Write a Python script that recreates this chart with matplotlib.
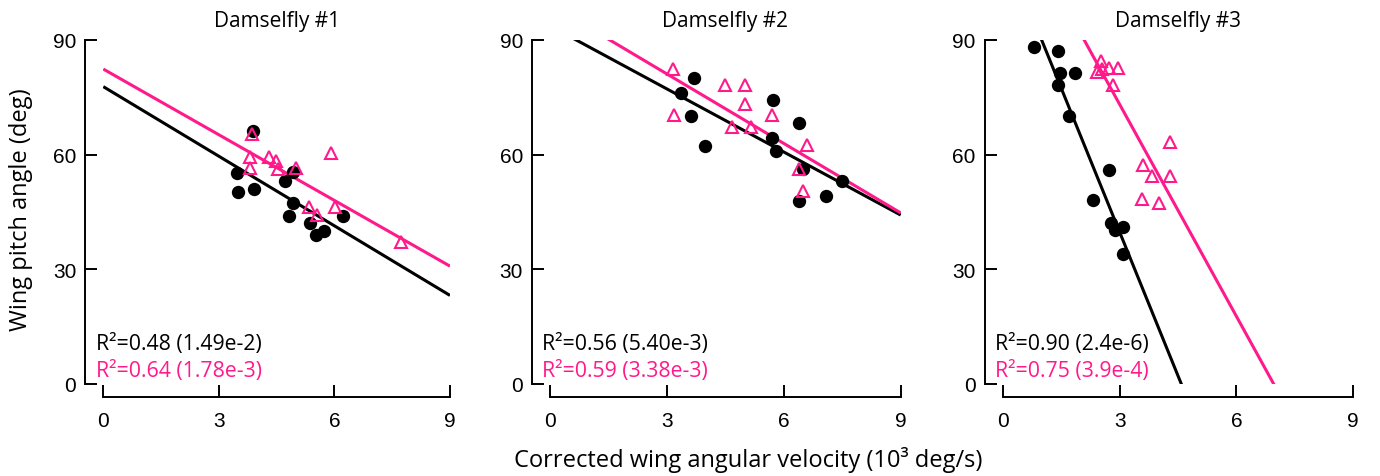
import numpy as np
import matplotlib
matplotlib.use("Agg")
import matplotlib.pyplot as plt

# ---- data -------------------------------------------------------------
titles = ["Damselfly #1", "Damselfly #2", "Damselfly #3"]

# uncorrected (black circles)
vel_black_1 = [3.89, 3.46, 3.50, 3.91, 4.71, 4.93, 4.93, 4.82, 5.36, 5.52, 5.73, 6.22]
ang_black_1 = [66.3, 55.1, 50.2, 51.0, 53.1, 55.4, 47.4, 44.0, 42.0, 39.1, 40.1, 44.0]
vel_black_2 = [3.69, 3.35, 3.62, 3.97, 5.73, 5.70, 5.79, 6.39, 6.50, 6.39, 7.08, 7.50]
ang_black_2 = [80.1, 76.1, 70.0, 62.2, 74.3, 64.4, 61.0, 68.2, 56.3, 48.0, 49.1, 53.0]
vel_black_3 = [0.81, 1.41, 1.46, 1.86, 1.41, 1.71, 2.72, 2.32, 2.78, 2.89, 3.10, 3.08]
ang_black_3 = [88.1, 87.2, 81.3, 81.3, 78.1, 70.0, 56.1, 48.1, 42.0, 40.3, 41.0, 34.0]

# pink open triangles
vel_pink_1 = [3.86, 3.80, 3.81, 4.30, 4.49, 4.54, 5.01, 5.91, 5.34, 5.54, 6.02, 7.73]
ang_pink_1 = [65.4, 59.3, 56.4, 59.5, 58.4, 56.3, 56.4, 60.4, 46.4, 44.2, 46.4, 37.2]
vel_pink_2 = [3.16, 3.19, 4.50, 5.00, 5.00, 4.66, 5.15, 5.70, 6.60, 6.39, 6.50]
ang_pink_2 = [82.4, 70.4, 78.3, 78.3, 73.3, 67.3, 67.3, 70.4, 62.4, 56.3, 50.4]
vel_pink_3 = [2.53, 2.42, 2.56, 2.74, 2.97, 2.82, 4.30, 3.60, 3.83, 4.29, 3.58, 4.02]
ang_pink_3 = [84.6, 81.6, 82.4, 82.6, 82.6, 78.2, 63.2, 57.3, 54.3, 54.3, 48.4, 47.3]

# linear fits: (intercept, slope)
fit_black = [(77.8, -6.07), (93.7, -5.50), (115.1, -25.1)]
fit_pink = [(82.4, -5.73), (99.3, -6.06), (128.7, -18.5)]

stats_black = ["R²=0.48 (1.49e-2)", "R²=0.56 (5.40e-3)", "R²=0.90 (2.4e-6)"]
stats_pink = ["R²=0.64 (1.78e-3)", "R²=0.59 (3.38e-3)", "R²=0.75 (3.9e-4)"]

x_ticks = [0, 3, 6, 9]
y_ticks = [0, 30, 60, 90]

PINK = "#ff1a8c"
TEXT_FONT = ["Open Sans", "DejaVu Sans"]
TICK_FONT = ["Liberation Sans", "DejaVu Sans"]

blacks = [(vel_black_1, ang_black_1), (vel_black_2, ang_black_2), (vel_black_3, ang_black_3)]
pinks = [(vel_pink_1, ang_pink_1), (vel_pink_2, ang_pink_2), (vel_pink_3, ang_pink_3)]

# ---- figure -------------------------------------------------------------
W, H = 1380, 477
fig = plt.figure(figsize=(W / 100, H / 100), dpi=100)

x_left_px = [103.3, 550.0, 1002.7]
x_right_px = [450.0, 900.7, 1353.3]
y_top_px, y_bot_px = 41.0, 385.0

for i in range(3):
    l = x_left_px[i] / W
    w = (x_right_px[i] - x_left_px[i]) / W
    b = (H - y_bot_px) / H
    h = (y_bot_px - y_top_px) / H
    ax = fig.add_axes([l, b, w, h])
    ax.set_xlim(0, 9)
    ax.set_ylim(0, 90)

    xs = np.array([0.0, 9.0])
    a0, a1 = fit_black[i]
    ax.plot(xs, a0 + a1 * xs, color="black", lw=2.2, solid_capstyle="butt", zorder=2)
    p0, p1 = fit_pink[i]
    ax.plot(xs, p0 + p1 * xs, color=PINK, lw=2.2, solid_capstyle="butt", zorder=2)

    bx, by = blacks[i]
    ax.plot(bx, by, ls="none", marker="o", ms=9.6, mfc="black", mec="black",
            mew=0, clip_on=False, zorder=3)
    px, py = pinks[i]
    ax.plot(px, py, ls="none", marker="^", ms=8.4, mfc="none", mec=PINK,
            mew=1.5, clip_on=False, zorder=4)

    for side in ("top", "right"):
        ax.spines[side].set_visible(False)
    ax.spines["left"].set_position(("outward", 12.9))
    ax.spines["bottom"].set_position(("outward", 9.4))
    for side in ("left", "bottom"):
        ax.spines[side].set_linewidth(1.4)

    ax.set_xticks(x_ticks, labels=[str(v) for v in x_ticks],
                  family=TICK_FONT, fontsize=15)
    ax.set_yticks(y_ticks, labels=[str(v) for v in y_ticks],
                  family=TICK_FONT, fontsize=15)
    ax.tick_params(direction="in", length=8.6, width=1.4)
    ax.tick_params(axis="y", pad=6.5)
    ax.tick_params(axis="x", pad=10)

    ax.set_title(titles[i], family=TEXT_FONT, fontsize=15, pad=10)

    xw = x_right_px[i] - x_left_px[i]
    ax.text(-7.5 / xw, 35 / 344, stats_black[i], transform=ax.transAxes,
            family=TEXT_FONT, fontsize=15.3, color="black", va="baseline", ha="left")
    ax.text(-7.5 / xw, 8 / 344, stats_pink[i], transform=ax.transAxes,
            family=TEXT_FONT, fontsize=15.3, color=PINK, va="baseline", ha="left")

fig.text(748 / W, (H - 467) / H, "Corrected wing angular velocity (10³ deg/s)",
         family=TEXT_FONT, fontsize=17, ha="center", va="baseline")
fig.text(21 / W, (H - 210) / H, "Wing pitch angle (deg)", family=TEXT_FONT,
         fontsize=17, rotation=90, ha="center", va="center")

fig.savefig("out.png", dpi=100)
